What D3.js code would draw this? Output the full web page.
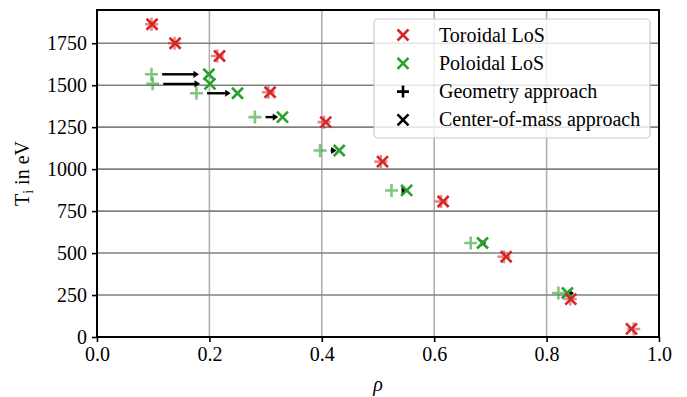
<!DOCTYPE html>
<html>
<head>
<meta charset="utf-8">
<script src="https://cdn.jsdelivr.net/npm/d3@7"></script>
<style>
  body { margin: 0; background: #fff; }
  svg { display: block; }
  text { font-family: "Liberation Serif", "DejaVu Serif", serif; fill: #000; }
</style>
</head>
<body>
<svg id="chart" width="687" height="397"></svg>
<script>
// Toroidal LoS: geometry approach vs center-of-mass approach (same Ti)
var rhoTorGeo = [0.097, 0.138, 0.214, 0.305, 0.404, 0.505, 0.612, 0.724, 0.842, 0.955];
var rhoTorCom = [0.098, 0.139, 0.218, 0.308, 0.407, 0.508, 0.616, 0.728, 0.843, 0.951];
var tiTor     = [1863, 1750, 1674, 1458, 1280, 1045, 807, 478, 226, 48];

// Poloidal LoS
var rhoPolGeo = [0.097, 0.099, 0.177, 0.281, 0.397, 0.524, 0.665, 0.821];
var rhoPolCom = [0.199, 0.201, 0.250, 0.330, 0.431, 0.551, 0.686, 0.837];
var tiPol     = [1565, 1508, 1452, 1310, 1111, 873, 560, 262];

var xTicks = [0, 0.2, 0.4, 0.6, 0.8, 1.0];
var yTicks = [0, 250, 500, 750, 1000, 1250, 1500, 1750];

var legendItems = [
	{label: "Toroidal LoS", shape: "x", color: "#d62728"},
	{label: "Poloidal LoS", shape: "x", color: "#2ca02c"},
	{label: "Geometry approach", shape: "+", color: "#000"},
	{label: "Center-of-mass approach", shape: "x", color: "#000"}
];

var red = "#d62728", green = "#2ca02c";

var svg = d3.select("#chart"),
	margin = {top: 10, right: 28, bottom: 60, left: 97},
	width = 687 - margin.left - margin.right,
	height = 397 - margin.top - margin.bottom;

var x = d3.scaleLinear().domain([0, 1]).range([0, width]);
var y = d3.scaleLinear().domain([0, 1948]).range([height, 0]);

var g = svg.append("g").attr("transform", "translate(" + margin.left + "," + margin.top + ")");

// grid
g.append("g").selectAll("line")
	.data(xTicks.slice(1, -1))
	.enter().append("line")
	.attr("x1", d => x(d)).attr("x2", d => x(d))
	.attr("y1", 0).attr("y2", height)
	.attr("stroke", "#b0b0b0").attr("stroke-width", 1.6);

g.append("g").selectAll("line")
	.data(yTicks.slice(1))
	.enter().append("line")
	.attr("x1", 0).attr("x2", width)
	.attr("y1", d => y(d)).attr("y2", d => y(d))
	.attr("stroke", "#808080").attr("stroke-width", 1.6);

// axes
var xAxis = g.append("g")
	.attr("transform", "translate(0," + height + ")")
	.call(d3.axisBottom(x).tickValues(xTicks).tickFormat(d3.format(".1f")).tickSize(5).tickPadding(5));
var yAxis = g.append("g")
	.call(d3.axisLeft(y).tickValues(yTicks).tickFormat(d3.format("d")).tickSize(5).tickPadding(5));

[xAxis, yAxis].forEach(a => {
	a.attr("font-family", null).attr("font-size", null);
	a.select(".domain").remove();
	a.selectAll("line").attr("stroke", "#000").attr("stroke-width", 1.6);
	a.selectAll("text")
		.style("font-family", "'Liberation Serif', serif")
		.style("font-size", "20px");
});

// marker helpers
function crossPath(s) {
	return "M" + (-s) + "," + (-s) + "L" + s + "," + s + "M" + (-s) + "," + s + "L" + s + "," + (-s);
}
function plusPath(s) {
	return "M" + (-s) + ",0L" + s + ",0M0," + (-s) + "L0," + s;
}

var marks = g.append("g");

// toroidal geometry (light) under center-of-mass
marks.selectAll(".torGeo")
	.data(d3.range(tiTor.length))
	.enter().append("path")
	.attr("transform", i => "translate(" + x(rhoTorGeo[i]) + "," + y(tiTor[i]) + ")")
	.attr("d", plusPath(6.5))
	.attr("stroke", red).attr("stroke-opacity", 0.55).attr("stroke-width", 2.6).attr("fill", "none");

marks.selectAll(".polGeo")
	.data(d3.range(tiPol.length))
	.enter().append("path")
	.attr("transform", i => "translate(" + x(rhoPolGeo[i]) + "," + y(tiPol[i]) + ")")
	.attr("d", plusPath(6.5))
	.attr("stroke", green).attr("stroke-opacity", 0.6).attr("stroke-width", 2.6).attr("fill", "none");

// arrows geometry -> center-of-mass
var arrows = marks.append("g");
d3.range(tiPol.length).forEach(i => {
	var x0 = x(rhoPolGeo[i]), x1 = x(rhoPolCom[i]), yy = y(tiPol[i]);
	var dist = x1 - x0;
	var start = x0 + 10.6, end = start + Math.max(0.81 * dist - 9.6, 5);
	var head = 5.5;
	arrows.append("line")
		.attr("x1", start).attr("x2", end - head + 0.5)
		.attr("y1", yy).attr("y2", yy)
		.attr("stroke", "#000").attr("stroke-width", 2.4);
	arrows.append("path")
		.attr("d", "M" + end + "," + yy + "L" + (end - head) + "," + (yy - 3.6) + "L" + (end - head) + "," + (yy + 3.6) + "Z")
		.attr("fill", "#000");
});

marks.selectAll(".polCom")
	.data(d3.range(tiPol.length))
	.enter().append("path")
	.attr("transform", i => "translate(" + x(rhoPolCom[i]) + "," + y(tiPol[i]) + ")")
	.attr("d", crossPath(5.5))
	.attr("stroke", green).attr("stroke-width", 2.6).attr("fill", "none");

marks.selectAll(".torCom")
	.data(d3.range(tiTor.length))
	.enter().append("path")
	.attr("transform", i => "translate(" + x(rhoTorCom[i]) + "," + y(tiTor[i]) + ")")
	.attr("d", crossPath(5.5))
	.attr("stroke", red).attr("stroke-width", 2.6).attr("fill", "none");

// spines
g.append("rect")
	.attr("width", width).attr("height", height)
	.attr("fill", "none").attr("stroke", "#000").attr("stroke-width", 2);

// axis labels
svg.append("text")
	.attr("x", margin.left + width / 2).attr("y", 391)
	.attr("text-anchor", "middle").attr("font-size", 20).attr("font-style", "italic")
	.text("ρ");

var yl = svg.append("text")
	.attr("transform", "translate(29," + (margin.top + height / 2) + ") rotate(-90)")
	.attr("text-anchor", "middle").attr("font-size", 20);
yl.append("tspan").text("T");
yl.append("tspan").attr("font-size", 14).attr("dy", 4).text("i");
yl.append("tspan").attr("dy", -4).text(" in eV");

// legend
var leg = svg.append("g").attr("transform", "translate(374,19)");
leg.append("rect")
	.attr("width", 276).attr("height", 119).attr("rx", 4)
	.attr("fill", "#fff").attr("fill-opacity", 0.8)
	.attr("stroke", "#cccccc").attr("stroke-width", 1.2);

var row = leg.selectAll(".row")
	.data(legendItems)
	.enter().append("g")
	.attr("transform", (d, i) => "translate(0," + (16 + i * 28.3) + ")");

row.append("path")
	.attr("transform", "translate(29,0)")
	.attr("d", d => d.shape == "+" ? plusPath(6) : crossPath(5.5))
	.attr("stroke", d => d.color).attr("stroke-width", 2.6).attr("fill", "none");

row.append("text")
	.attr("x", 65).attr("y", 6.5)
	.attr("font-size", 20)
	.text(d => d.label);
</script>
</body>
</html>
